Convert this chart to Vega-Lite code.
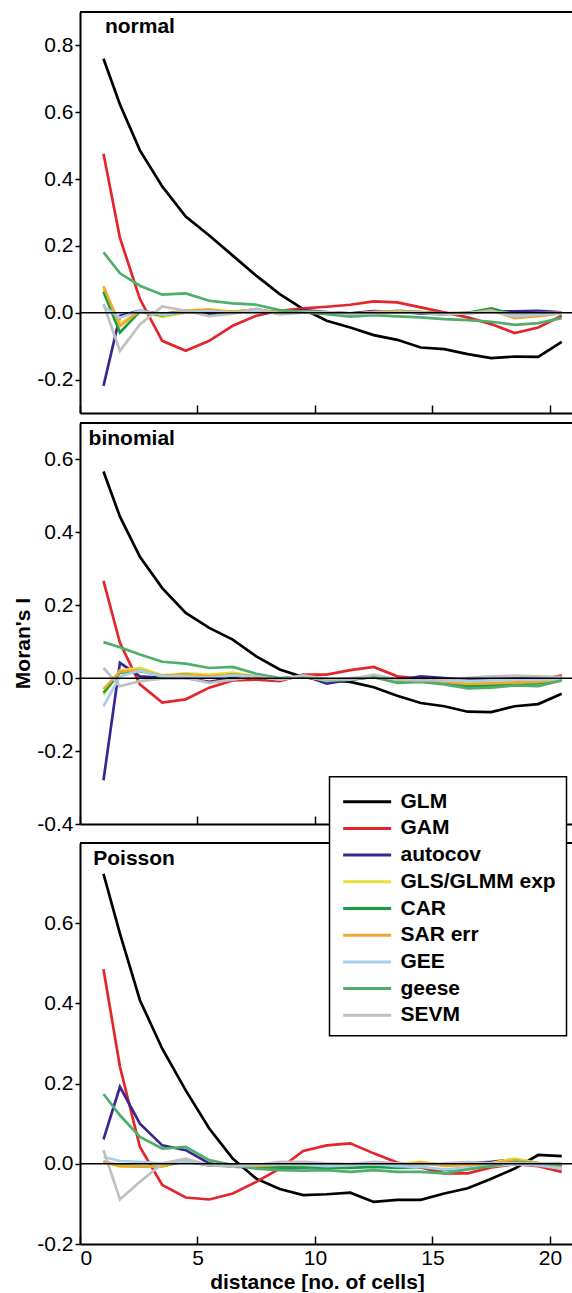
{
"$schema": "https://vega.github.io/schema/vega-lite/v6.json",
"padding": {"left": 12, "top": 11, "right": 0, "bottom": 0},
"spacing": 8,
"config": {
  "font": "Liberation Sans",
  "locale": {"number": {"decimal": ".", "thousands": ",", "grouping": [3], "currency": ["$", ""], "minus": "-"}},
  "view": {"stroke": null},
  "axis": {"domainColor": "black", "domainWidth": 2, "tickColor": "black", "tickWidth": 1.5, "labelColor": "black", "labelFontSize": 21, "labelFont": "Liberation Sans", "grid": false, "titleFontSize": 21, "titleFont": "Liberation Sans", "titleFontWeight": "bold", "titleColor": "black"},
  "legend": {"title": null, "strokeColor": "black", "strokeWidth": 1.5, "fillColor": "white", "padding": 10, "symbolType": "M-0.85,0H2.75", "symbolSize": 711, "symbolStrokeWidth": 3, "labelFontSize": 21, "labelFontWeight": "bold", "labelFont": "Liberation Sans", "labelColor": "black", "labelOffset": 31, "rowPadding": 1.7}
},
"datasets": {
"normal": [
{"m":"GLM","d":1,"v":0.76},{"m":"GLM","d":1.7,"v":0.623},{"m":"GLM","d":2.55,"v":0.486},{"m":"GLM","d":3.5,"v":0.378},{"m":"GLM","d":4.5,"v":0.288},{"m":"GLM","d":5.5,"v":0.231},{"m":"GLM","d":6.5,"v":0.171},{"m":"GLM","d":7.5,"v":0.111},{"m":"GLM","d":8.5,"v":0.056},{"m":"GLM","d":9.5,"v":0.011},{"m":"GLM","d":10.5,"v":-0.024},{"m":"GLM","d":11.5,"v":-0.044},{"m":"GLM","d":12.5,"v":-0.067},{"m":"GLM","d":13.5,"v":-0.081},{"m":"GLM","d":14.5,"v":-0.104},{"m":"GLM","d":15.5,"v":-0.109},{"m":"GLM","d":16.5,"v":-0.124},{"m":"GLM","d":17.5,"v":-0.136},{"m":"GLM","d":18.5,"v":-0.131},{"m":"GLM","d":19.5,"v":-0.132},{"m":"GLM","d":20.5,"v":-0.087},
{"m":"GAM","d":1,"v":0.476},{"m":"GAM","d":1.7,"v":0.224},{"m":"GAM","d":2.55,"v":0.041},{"m":"GAM","d":3.5,"v":-0.084},{"m":"GAM","d":4.5,"v":-0.114},{"m":"GAM","d":5.5,"v":-0.084},{"m":"GAM","d":6.5,"v":-0.039},{"m":"GAM","d":7.5,"v":-0.009},{"m":"GAM","d":8.5,"v":0.006},{"m":"GAM","d":9.5,"v":0.013},{"m":"GAM","d":10.5,"v":0.018},{"m":"GAM","d":11.5,"v":0.024},{"m":"GAM","d":12.5,"v":0.034},{"m":"GAM","d":13.5,"v":0.031},{"m":"GAM","d":14.5,"v":0.016},{"m":"GAM","d":15.5,"v":0.001},{"m":"GAM","d":16.5,"v":-0.014},{"m":"GAM","d":17.5,"v":-0.034},{"m":"GAM","d":18.5,"v":-0.061},{"m":"GAM","d":19.5,"v":-0.044},{"m":"GAM","d":20.5,"v":-0.009},
{"m":"autocov","d":1,"v":-0.219},{"m":"autocov","d":1.7,"v":-0.009},{"m":"autocov","d":2.55,"v":0.006},{"m":"autocov","d":3.5,"v":-0.004},{"m":"autocov","d":4.5,"v":0.006},{"m":"autocov","d":5.5,"v":-0.004},{"m":"autocov","d":6.5,"v":0.002},{"m":"autocov","d":7.5,"v":0.006},{"m":"autocov","d":8.5,"v":-0.002},{"m":"autocov","d":9.5,"v":0.008},{"m":"autocov","d":10.5,"v":0.002},{"m":"autocov","d":11.5,"v":-0.002},{"m":"autocov","d":12.5,"v":0.005},{"m":"autocov","d":13.5,"v":0.003},{"m":"autocov","d":14.5,"v":-0.002},{"m":"autocov","d":15.5,"v":-0.004},{"m":"autocov","d":16.5,"v":0},{"m":"autocov","d":17.5,"v":0.004},{"m":"autocov","d":18.5,"v":0.004},{"m":"autocov","d":19.5,"v":0.006},{"m":"autocov","d":20.5,"v":0.001},
{"m":"GLS/GLMM exp","d":1,"v":0.07},{"m":"GLS/GLMM exp","d":1.7,"v":-0.032},{"m":"GLS/GLMM exp","d":2.55,"v":0.004},{"m":"GLS/GLMM exp","d":3.5,"v":-0.012},{"m":"GLS/GLMM exp","d":4.5,"v":0},{"m":"GLS/GLMM exp","d":5.5,"v":0.006},{"m":"GLS/GLMM exp","d":6.5,"v":0.004},{"m":"GLS/GLMM exp","d":7.5,"v":0.008},{"m":"GLS/GLMM exp","d":8.5,"v":0.002},{"m":"GLS/GLMM exp","d":9.5,"v":0.004},{"m":"GLS/GLMM exp","d":10.5,"v":0},{"m":"GLS/GLMM exp","d":11.5,"v":-0.004},{"m":"GLS/GLMM exp","d":12.5,"v":0.002},{"m":"GLS/GLMM exp","d":13.5,"v":0.004},{"m":"GLS/GLMM exp","d":14.5,"v":0},{"m":"GLS/GLMM exp","d":15.5,"v":-0.002},{"m":"GLS/GLMM exp","d":16.5,"v":0},{"m":"GLS/GLMM exp","d":17.5,"v":0.006},{"m":"GLS/GLMM exp","d":18.5,"v":-0.012},{"m":"GLS/GLMM exp","d":19.5,"v":-0.004},{"m":"GLS/GLMM exp","d":20.5,"v":0},
{"m":"CAR","d":1,"v":0.063},{"m":"CAR","d":1.7,"v":-0.059},{"m":"CAR","d":2.55,"v":0.004},{"m":"CAR","d":3.5,"v":-0.008},{"m":"CAR","d":4.5,"v":0.004},{"m":"CAR","d":5.5,"v":0.006},{"m":"CAR","d":6.5,"v":0.002},{"m":"CAR","d":7.5,"v":0.01},{"m":"CAR","d":8.5,"v":0},{"m":"CAR","d":9.5,"v":0.004},{"m":"CAR","d":10.5,"v":0.002},{"m":"CAR","d":11.5,"v":-0.006},{"m":"CAR","d":12.5,"v":0},{"m":"CAR","d":13.5,"v":0.006},{"m":"CAR","d":14.5,"v":0.002},{"m":"CAR","d":15.5,"v":-0.002},{"m":"CAR","d":16.5,"v":0},{"m":"CAR","d":17.5,"v":0.013},{"m":"CAR","d":18.5,"v":-0.006},{"m":"CAR","d":19.5,"v":-0.002},{"m":"CAR","d":20.5,"v":-0.002},
{"m":"SAR err","d":1,"v":0.079},{"m":"SAR err","d":1.7,"v":-0.04},{"m":"SAR err","d":2.55,"v":0.006},{"m":"SAR err","d":3.5,"v":-0.006},{"m":"SAR err","d":4.5,"v":0.006},{"m":"SAR err","d":5.5,"v":0.01},{"m":"SAR err","d":6.5,"v":0.002},{"m":"SAR err","d":7.5,"v":0.01},{"m":"SAR err","d":8.5,"v":0},{"m":"SAR err","d":9.5,"v":0.002},{"m":"SAR err","d":10.5,"v":0},{"m":"SAR err","d":11.5,"v":-0.004},{"m":"SAR err","d":12.5,"v":0.002},{"m":"SAR err","d":13.5,"v":0.004},{"m":"SAR err","d":14.5,"v":0.002},{"m":"SAR err","d":15.5,"v":-0.004},{"m":"SAR err","d":16.5,"v":-0.002},{"m":"SAR err","d":17.5,"v":0.008},{"m":"SAR err","d":18.5,"v":-0.016},{"m":"SAR err","d":19.5,"v":-0.01},{"m":"SAR err","d":20.5,"v":-0.002},
{"m":"GEE","d":1,"v":0.02},{"m":"GEE","d":1.7,"v":-0.015},{"m":"GEE","d":2.55,"v":0.006},{"m":"GEE","d":3.5,"v":-0.006},{"m":"GEE","d":4.5,"v":0.002},{"m":"GEE","d":5.5,"v":0.004},{"m":"GEE","d":6.5,"v":0},{"m":"GEE","d":7.5,"v":0.006},{"m":"GEE","d":8.5,"v":-0.002},{"m":"GEE","d":9.5,"v":0.002},{"m":"GEE","d":10.5,"v":0.002},{"m":"GEE","d":11.5,"v":-0.004},{"m":"GEE","d":12.5,"v":0},{"m":"GEE","d":13.5,"v":0},{"m":"GEE","d":14.5,"v":0},{"m":"GEE","d":15.5,"v":-0.004},{"m":"GEE","d":16.5,"v":-0.002},{"m":"GEE","d":17.5,"v":0.004},{"m":"GEE","d":18.5,"v":-0.01},{"m":"GEE","d":19.5,"v":-0.006},{"m":"GEE","d":20.5,"v":-0.002},
{"m":"geese","d":1,"v":0.181},{"m":"geese","d":1.7,"v":0.118},{"m":"geese","d":2.55,"v":0.081},{"m":"geese","d":3.5,"v":0.054},{"m":"geese","d":4.5,"v":0.058},{"m":"geese","d":5.5,"v":0.036},{"m":"geese","d":6.5,"v":0.028},{"m":"geese","d":7.5,"v":0.024},{"m":"geese","d":8.5,"v":0.008},{"m":"geese","d":9.5,"v":0.001},{"m":"geese","d":10.5,"v":-0.004},{"m":"geese","d":11.5,"v":-0.012},{"m":"geese","d":12.5,"v":-0.007},{"m":"geese","d":13.5,"v":-0.011},{"m":"geese","d":14.5,"v":-0.014},{"m":"geese","d":15.5,"v":-0.019},{"m":"geese","d":16.5,"v":-0.022},{"m":"geese","d":17.5,"v":-0.027},{"m":"geese","d":18.5,"v":-0.036},{"m":"geese","d":19.5,"v":-0.031},{"m":"geese","d":20.5,"v":-0.016},
{"m":"SEVM","d":1,"v":0.026},{"m":"SEVM","d":1.7,"v":-0.114},{"m":"SEVM","d":2.55,"v":-0.035},{"m":"SEVM","d":3.5,"v":0.019},{"m":"SEVM","d":4.5,"v":0.006},{"m":"SEVM","d":5.5,"v":-0.01},{"m":"SEVM","d":6.5,"v":-0.003},{"m":"SEVM","d":7.5,"v":0.012},{"m":"SEVM","d":8.5,"v":-0.005},{"m":"SEVM","d":9.5,"v":0},{"m":"SEVM","d":10.5,"v":0.002},{"m":"SEVM","d":11.5,"v":-0.003},{"m":"SEVM","d":12.5,"v":-0.002},{"m":"SEVM","d":13.5,"v":0.002},{"m":"SEVM","d":14.5,"v":0},{"m":"SEVM","d":15.5,"v":-0.003},{"m":"SEVM","d":16.5,"v":-0.002},{"m":"SEVM","d":17.5,"v":0.003},{"m":"SEVM","d":18.5,"v":-0.003},{"m":"SEVM","d":19.5,"v":-0.001},{"m":"SEVM","d":20.5,"v":0}
],
"binomial": [
{"m":"GLM","d":1,"v":0.567},{"m":"GLM","d":1.7,"v":0.443},{"m":"GLM","d":2.55,"v":0.333},{"m":"GLM","d":3.5,"v":0.247},{"m":"GLM","d":4.5,"v":0.179},{"m":"GLM","d":5.5,"v":0.138},{"m":"GLM","d":6.5,"v":0.106},{"m":"GLM","d":7.5,"v":0.06},{"m":"GLM","d":8.5,"v":0.024},{"m":"GLM","d":9.5,"v":0.003},{"m":"GLM","d":10.5,"v":-0.005},{"m":"GLM","d":11.5,"v":-0.01},{"m":"GLM","d":12.5,"v":-0.025},{"m":"GLM","d":13.5,"v":-0.048},{"m":"GLM","d":14.5,"v":-0.068},{"m":"GLM","d":15.5,"v":-0.077},{"m":"GLM","d":16.5,"v":-0.092},{"m":"GLM","d":17.5,"v":-0.093},{"m":"GLM","d":18.5,"v":-0.077},{"m":"GLM","d":19.5,"v":-0.071},{"m":"GLM","d":20.5,"v":-0.043},
{"m":"GAM","d":1,"v":0.267},{"m":"GAM","d":1.7,"v":0.097},{"m":"GAM","d":2.55,"v":-0.017},{"m":"GAM","d":3.5,"v":-0.067},{"m":"GAM","d":4.5,"v":-0.058},{"m":"GAM","d":5.5,"v":-0.026},{"m":"GAM","d":6.5,"v":-0.006},{"m":"GAM","d":7.5,"v":-0.004},{"m":"GAM","d":8.5,"v":-0.008},{"m":"GAM","d":9.5,"v":0.01},{"m":"GAM","d":10.5,"v":0.01},{"m":"GAM","d":11.5,"v":0.022},{"m":"GAM","d":12.5,"v":0.031},{"m":"GAM","d":13.5,"v":0.005},{"m":"GAM","d":14.5,"v":-0.001},{"m":"GAM","d":15.5,"v":-0.013},{"m":"GAM","d":16.5,"v":-0.019},{"m":"GAM","d":17.5,"v":-0.017},{"m":"GAM","d":18.5,"v":-0.013},{"m":"GAM","d":19.5,"v":-0.006},{"m":"GAM","d":20.5,"v":0.008},
{"m":"autocov","d":1,"v":-0.28},{"m":"autocov","d":1.7,"v":0.042},{"m":"autocov","d":2.55,"v":0.005},{"m":"autocov","d":3.5,"v":0.001},{"m":"autocov","d":4.5,"v":0.001},{"m":"autocov","d":5.5,"v":-0.01},{"m":"autocov","d":6.5,"v":0.001},{"m":"autocov","d":7.5,"v":0.004},{"m":"autocov","d":8.5,"v":-0.004},{"m":"autocov","d":9.5,"v":0.008},{"m":"autocov","d":10.5,"v":-0.015},{"m":"autocov","d":11.5,"v":-0.004},{"m":"autocov","d":12.5,"v":0.004},{"m":"autocov","d":13.5,"v":-0.006},{"m":"autocov","d":14.5,"v":0.005},{"m":"autocov","d":15.5,"v":0},{"m":"autocov","d":16.5,"v":-0.004},{"m":"autocov","d":17.5,"v":-0.002},{"m":"autocov","d":18.5,"v":-0.001},{"m":"autocov","d":19.5,"v":0},{"m":"autocov","d":20.5,"v":0.002},
{"m":"GLS/GLMM exp","d":1,"v":-0.046},{"m":"GLS/GLMM exp","d":1.7,"v":0.021},{"m":"GLS/GLMM exp","d":2.55,"v":0.028},{"m":"GLS/GLMM exp","d":3.5,"v":0.008},{"m":"GLS/GLMM exp","d":4.5,"v":0.013},{"m":"GLS/GLMM exp","d":5.5,"v":0.01},{"m":"GLS/GLMM exp","d":6.5,"v":0.015},{"m":"GLS/GLMM exp","d":7.5,"v":0.005},{"m":"GLS/GLMM exp","d":8.5,"v":-0.003},{"m":"GLS/GLMM exp","d":9.5,"v":0.006},{"m":"GLS/GLMM exp","d":10.5,"v":-0.006},{"m":"GLS/GLMM exp","d":11.5,"v":-0.002},{"m":"GLS/GLMM exp","d":12.5,"v":0.006},{"m":"GLS/GLMM exp","d":13.5,"v":-0.004},{"m":"GLS/GLMM exp","d":14.5,"v":-0.006},{"m":"GLS/GLMM exp","d":15.5,"v":-0.01},{"m":"GLS/GLMM exp","d":16.5,"v":-0.013},{"m":"GLS/GLMM exp","d":17.5,"v":-0.012},{"m":"GLS/GLMM exp","d":18.5,"v":-0.013},{"m":"GLS/GLMM exp","d":19.5,"v":-0.01},{"m":"GLS/GLMM exp","d":20.5,"v":-0.004},
{"m":"CAR","d":1,"v":-0.04},{"m":"CAR","d":1.7,"v":0.015},{"m":"CAR","d":2.55,"v":0.02},{"m":"CAR","d":3.5,"v":0.006},{"m":"CAR","d":4.5,"v":0.01},{"m":"CAR","d":5.5,"v":0.004},{"m":"CAR","d":6.5,"v":0.01},{"m":"CAR","d":7.5,"v":0.004},{"m":"CAR","d":8.5,"v":-0.004},{"m":"CAR","d":9.5,"v":0.006},{"m":"CAR","d":10.5,"v":-0.008},{"m":"CAR","d":11.5,"v":-0.004},{"m":"CAR","d":12.5,"v":0.004},{"m":"CAR","d":13.5,"v":-0.006},{"m":"CAR","d":14.5,"v":-0.008},{"m":"CAR","d":15.5,"v":-0.012},{"m":"CAR","d":16.5,"v":-0.022},{"m":"CAR","d":17.5,"v":-0.02},{"m":"CAR","d":18.5,"v":-0.016},{"m":"CAR","d":19.5,"v":-0.014},{"m":"CAR","d":20.5,"v":-0.006},
{"m":"SAR err","d":1,"v":-0.03},{"m":"SAR err","d":1.7,"v":0.018},{"m":"SAR err","d":2.55,"v":0.022},{"m":"SAR err","d":3.5,"v":0.006},{"m":"SAR err","d":4.5,"v":0.01},{"m":"SAR err","d":5.5,"v":0.006},{"m":"SAR err","d":6.5,"v":0.01},{"m":"SAR err","d":7.5,"v":0.004},{"m":"SAR err","d":8.5,"v":-0.003},{"m":"SAR err","d":9.5,"v":0.005},{"m":"SAR err","d":10.5,"v":-0.006},{"m":"SAR err","d":11.5,"v":-0.003},{"m":"SAR err","d":12.5,"v":0.005},{"m":"SAR err","d":13.5,"v":-0.005},{"m":"SAR err","d":14.5,"v":-0.006},{"m":"SAR err","d":15.5,"v":-0.01},{"m":"SAR err","d":16.5,"v":-0.016},{"m":"SAR err","d":17.5,"v":-0.014},{"m":"SAR err","d":18.5,"v":-0.012},{"m":"SAR err","d":19.5,"v":-0.01},{"m":"SAR err","d":20.5,"v":-0.004},
{"m":"GEE","d":1,"v":-0.077},{"m":"GEE","d":1.7,"v":0.005},{"m":"GEE","d":2.55,"v":0.021},{"m":"GEE","d":3.5,"v":0.005},{"m":"GEE","d":4.5,"v":0.005},{"m":"GEE","d":5.5,"v":0.001},{"m":"GEE","d":6.5,"v":0.008},{"m":"GEE","d":7.5,"v":0.004},{"m":"GEE","d":8.5,"v":-0.002},{"m":"GEE","d":9.5,"v":0.006},{"m":"GEE","d":10.5,"v":-0.006},{"m":"GEE","d":11.5,"v":0},{"m":"GEE","d":12.5,"v":0.005},{"m":"GEE","d":13.5,"v":-0.004},{"m":"GEE","d":14.5,"v":-0.004},{"m":"GEE","d":15.5,"v":-0.006},{"m":"GEE","d":16.5,"v":-0.008},{"m":"GEE","d":17.5,"v":-0.006},{"m":"GEE","d":18.5,"v":-0.004},{"m":"GEE","d":19.5,"v":-0.004},{"m":"GEE","d":20.5,"v":-0.002},
{"m":"geese","d":1,"v":0.099},{"m":"geese","d":1.7,"v":0.085},{"m":"geese","d":2.55,"v":0.065},{"m":"geese","d":3.5,"v":0.045},{"m":"geese","d":4.5,"v":0.04},{"m":"geese","d":5.5,"v":0.028},{"m":"geese","d":6.5,"v":0.031},{"m":"geese","d":7.5,"v":0.012},{"m":"geese","d":8.5,"v":0},{"m":"geese","d":9.5,"v":0.005},{"m":"geese","d":10.5,"v":-0.003},{"m":"geese","d":11.5,"v":-0.004},{"m":"geese","d":12.5,"v":0.003},{"m":"geese","d":13.5,"v":-0.013},{"m":"geese","d":14.5,"v":-0.01},{"m":"geese","d":15.5,"v":-0.017},{"m":"geese","d":16.5,"v":-0.028},{"m":"geese","d":17.5,"v":-0.026},{"m":"geese","d":18.5,"v":-0.02},{"m":"geese","d":19.5,"v":-0.022},{"m":"geese","d":20.5,"v":-0.006},
{"m":"SEVM","d":1,"v":0.028},{"m":"SEVM","d":1.7,"v":-0.022},{"m":"SEVM","d":2.55,"v":-0.008},{"m":"SEVM","d":3.5,"v":-0.001},{"m":"SEVM","d":4.5,"v":0.001},{"m":"SEVM","d":5.5,"v":-0.013},{"m":"SEVM","d":6.5,"v":-0.004},{"m":"SEVM","d":7.5,"v":0.005},{"m":"SEVM","d":8.5,"v":-0.004},{"m":"SEVM","d":9.5,"v":0.008},{"m":"SEVM","d":10.5,"v":-0.002},{"m":"SEVM","d":11.5,"v":-0.004},{"m":"SEVM","d":12.5,"v":0.01},{"m":"SEVM","d":13.5,"v":-0.004},{"m":"SEVM","d":14.5,"v":-0.006},{"m":"SEVM","d":15.5,"v":-0.004},{"m":"SEVM","d":16.5,"v":0.001},{"m":"SEVM","d":17.5,"v":0.005},{"m":"SEVM","d":18.5,"v":0.007},{"m":"SEVM","d":19.5,"v":0.005},{"m":"SEVM","d":20.5,"v":0.003}
],
"poisson": [
{"m":"GLM","d":1,"v":0.723},{"m":"GLM","d":1.7,"v":0.574},{"m":"GLM","d":2.55,"v":0.408},{"m":"GLM","d":3.5,"v":0.287},{"m":"GLM","d":4.5,"v":0.183},{"m":"GLM","d":5.5,"v":0.088},{"m":"GLM","d":6.5,"v":0.013},{"m":"GLM","d":7.5,"v":-0.037},{"m":"GLM","d":8.5,"v":-0.063},{"m":"GLM","d":9.5,"v":-0.078},{"m":"GLM","d":10.5,"v":-0.076},{"m":"GLM","d":11.5,"v":-0.072},{"m":"GLM","d":12.5,"v":-0.095},{"m":"GLM","d":13.5,"v":-0.09},{"m":"GLM","d":14.5,"v":-0.09},{"m":"GLM","d":15.5,"v":-0.074},{"m":"GLM","d":16.5,"v":-0.061},{"m":"GLM","d":17.5,"v":-0.037},{"m":"GLM","d":18.5,"v":-0.012},{"m":"GLM","d":19.5,"v":0.022},{"m":"GLM","d":20.5,"v":0.019},
{"m":"GAM","d":1,"v":0.485},{"m":"GAM","d":1.7,"v":0.242},{"m":"GAM","d":2.55,"v":0.042},{"m":"GAM","d":3.5,"v":-0.053},{"m":"GAM","d":4.5,"v":-0.084},{"m":"GAM","d":5.5,"v":-0.089},{"m":"GAM","d":6.5,"v":-0.074},{"m":"GAM","d":7.5,"v":-0.045},{"m":"GAM","d":8.5,"v":-0.012},{"m":"GAM","d":9.5,"v":0.032},{"m":"GAM","d":10.5,"v":0.046},{"m":"GAM","d":11.5,"v":0.051},{"m":"GAM","d":12.5,"v":0.026},{"m":"GAM","d":13.5,"v":0.003},{"m":"GAM","d":14.5,"v":-0.009},{"m":"GAM","d":15.5,"v":-0.024},{"m":"GAM","d":16.5,"v":-0.024},{"m":"GAM","d":17.5,"v":-0.009},{"m":"GAM","d":18.5,"v":-0.001},{"m":"GAM","d":19.5,"v":-0.006},{"m":"GAM","d":20.5,"v":-0.02},
{"m":"autocov","d":1,"v":0.061},{"m":"autocov","d":1.7,"v":0.192},{"m":"autocov","d":2.55,"v":0.1},{"m":"autocov","d":3.5,"v":0.046},{"m":"autocov","d":4.5,"v":0.034},{"m":"autocov","d":5.5,"v":0.001},{"m":"autocov","d":6.5,"v":-0.007},{"m":"autocov","d":7.5,"v":-0.009},{"m":"autocov","d":8.5,"v":-0.009},{"m":"autocov","d":9.5,"v":-0.009},{"m":"autocov","d":10.5,"v":-0.007},{"m":"autocov","d":11.5,"v":-0.008},{"m":"autocov","d":12.5,"v":-0.006},{"m":"autocov","d":13.5,"v":-0.005},{"m":"autocov","d":14.5,"v":0.001},{"m":"autocov","d":15.5,"v":-0.002},{"m":"autocov","d":16.5,"v":0.001},{"m":"autocov","d":17.5,"v":0.005},{"m":"autocov","d":18.5,"v":0.011},{"m":"autocov","d":19.5,"v":0.002},{"m":"autocov","d":20.5,"v":-0.003},
{"m":"GLS/GLMM exp","d":1,"v":0.005},{"m":"GLS/GLMM exp","d":1.7,"v":-0.007},{"m":"GLS/GLMM exp","d":2.55,"v":-0.007},{"m":"GLS/GLMM exp","d":3.5,"v":-0.007},{"m":"GLS/GLMM exp","d":4.5,"v":0.009},{"m":"GLS/GLMM exp","d":5.5,"v":-0.003},{"m":"GLS/GLMM exp","d":6.5,"v":-0.004},{"m":"GLS/GLMM exp","d":7.5,"v":-0.004},{"m":"GLS/GLMM exp","d":8.5,"v":-0.002},{"m":"GLS/GLMM exp","d":9.5,"v":-0.002},{"m":"GLS/GLMM exp","d":10.5,"v":-0.003},{"m":"GLS/GLMM exp","d":11.5,"v":-0.002},{"m":"GLS/GLMM exp","d":12.5,"v":0},{"m":"GLS/GLMM exp","d":13.5,"v":-0.002},{"m":"GLS/GLMM exp","d":14.5,"v":0.005},{"m":"GLS/GLMM exp","d":15.5,"v":-0.004},{"m":"GLS/GLMM exp","d":16.5,"v":-0.002},{"m":"GLS/GLMM exp","d":17.5,"v":0.002},{"m":"GLS/GLMM exp","d":18.5,"v":0.013},{"m":"GLS/GLMM exp","d":19.5,"v":0.002},{"m":"GLS/GLMM exp","d":20.5,"v":-0.012},
{"m":"CAR","d":1,"v":0.004},{"m":"CAR","d":1.7,"v":-0.004},{"m":"CAR","d":2.55,"v":-0.006},{"m":"CAR","d":3.5,"v":-0.005},{"m":"CAR","d":4.5,"v":0.006},{"m":"CAR","d":5.5,"v":-0.004},{"m":"CAR","d":6.5,"v":-0.006},{"m":"CAR","d":7.5,"v":-0.008},{"m":"CAR","d":8.5,"v":-0.01},{"m":"CAR","d":9.5,"v":-0.008},{"m":"CAR","d":10.5,"v":-0.01},{"m":"CAR","d":11.5,"v":-0.01},{"m":"CAR","d":12.5,"v":-0.008},{"m":"CAR","d":13.5,"v":-0.01},{"m":"CAR","d":14.5,"v":-0.008},{"m":"CAR","d":15.5,"v":-0.016},{"m":"CAR","d":16.5,"v":-0.01},{"m":"CAR","d":17.5,"v":-0.004},{"m":"CAR","d":18.5,"v":0.004},{"m":"CAR","d":19.5,"v":0},{"m":"CAR","d":20.5,"v":-0.006},
{"m":"SAR err","d":1,"v":0.006},{"m":"SAR err","d":1.7,"v":-0.005},{"m":"SAR err","d":2.55,"v":-0.006},{"m":"SAR err","d":3.5,"v":-0.006},{"m":"SAR err","d":4.5,"v":0.008},{"m":"SAR err","d":5.5,"v":-0.003},{"m":"SAR err","d":6.5,"v":-0.004},{"m":"SAR err","d":7.5,"v":-0.005},{"m":"SAR err","d":8.5,"v":-0.003},{"m":"SAR err","d":9.5,"v":-0.003},{"m":"SAR err","d":10.5,"v":-0.004},{"m":"SAR err","d":11.5,"v":-0.003},{"m":"SAR err","d":12.5,"v":-0.001},{"m":"SAR err","d":13.5,"v":-0.003},{"m":"SAR err","d":14.5,"v":0.003},{"m":"SAR err","d":15.5,"v":-0.005},{"m":"SAR err","d":16.5,"v":-0.003},{"m":"SAR err","d":17.5,"v":0},{"m":"SAR err","d":18.5,"v":0.009},{"m":"SAR err","d":19.5,"v":0.001},{"m":"SAR err","d":20.5,"v":-0.01},
{"m":"GEE","d":1,"v":0.017},{"m":"GEE","d":1.7,"v":0.007},{"m":"GEE","d":2.55,"v":0.005},{"m":"GEE","d":3.5,"v":0.001},{"m":"GEE","d":4.5,"v":0.005},{"m":"GEE","d":5.5,"v":-0.003},{"m":"GEE","d":6.5,"v":-0.004},{"m":"GEE","d":7.5,"v":-0.002},{"m":"GEE","d":8.5,"v":-0.001},{"m":"GEE","d":9.5,"v":-0.002},{"m":"GEE","d":10.5,"v":-0.006},{"m":"GEE","d":11.5,"v":-0.004},{"m":"GEE","d":12.5,"v":-0.001},{"m":"GEE","d":13.5,"v":-0.006},{"m":"GEE","d":14.5,"v":-0.008},{"m":"GEE","d":15.5,"v":-0.014},{"m":"GEE","d":16.5,"v":-0.01},{"m":"GEE","d":17.5,"v":-0.006},{"m":"GEE","d":18.5,"v":-0.001},{"m":"GEE","d":19.5,"v":-0.004},{"m":"GEE","d":20.5,"v":-0.012},
{"m":"geese","d":1,"v":0.174},{"m":"geese","d":1.7,"v":0.121},{"m":"geese","d":2.55,"v":0.067},{"m":"geese","d":3.5,"v":0.038},{"m":"geese","d":4.5,"v":0.042},{"m":"geese","d":5.5,"v":0.009},{"m":"geese","d":6.5,"v":-0.003},{"m":"geese","d":7.5,"v":-0.012},{"m":"geese","d":8.5,"v":-0.016},{"m":"geese","d":9.5,"v":-0.017},{"m":"geese","d":10.5,"v":-0.016},{"m":"geese","d":11.5,"v":-0.02},{"m":"geese","d":12.5,"v":-0.016},{"m":"geese","d":13.5,"v":-0.02},{"m":"geese","d":14.5,"v":-0.02},{"m":"geese","d":15.5,"v":-0.024},{"m":"geese","d":16.5,"v":-0.014},{"m":"geese","d":17.5,"v":-0.006},{"m":"geese","d":18.5,"v":0.005},{"m":"geese","d":19.5,"v":0.001},{"m":"geese","d":20.5,"v":-0.003},
{"m":"SEVM","d":1,"v":0.034},{"m":"SEVM","d":1.7,"v":-0.089},{"m":"SEVM","d":2.55,"v":-0.045},{"m":"SEVM","d":3.5,"v":0.001},{"m":"SEVM","d":4.5,"v":0.013},{"m":"SEVM","d":5.5,"v":-0.003},{"m":"SEVM","d":6.5,"v":-0.007},{"m":"SEVM","d":7.5,"v":-0.003},{"m":"SEVM","d":8.5,"v":0.005},{"m":"SEVM","d":9.5,"v":0.005},{"m":"SEVM","d":10.5,"v":0.001},{"m":"SEVM","d":11.5,"v":-0.001},{"m":"SEVM","d":12.5,"v":0.005},{"m":"SEVM","d":13.5,"v":0.001},{"m":"SEVM","d":14.5,"v":-0.003},{"m":"SEVM","d":15.5,"v":0.001},{"m":"SEVM","d":16.5,"v":0.004},{"m":"SEVM","d":17.5,"v":0.001},{"m":"SEVM","d":18.5,"v":0.001},{"m":"SEVM","d":19.5,"v":0.001},{"m":"SEVM","d":20.5,"v":0.002}
]
},
"vconcat": [
{
 "width": 493, "height": 401,
 "layer": [
  {"data": {"name": "normal"}, "mark": {"type": "line", "strokeWidth": 2.7},
   "encoding": {
    "x": {"field": "d", "type": "quantitative", "scale": {"domain": [0, 20.98], "nice": false, "zero": false}, "axis": {"values": [0, 5, 10, 15, 20], "labels": false, "tickSize": -8, "title": null}},
    "y": {"field": "v", "type": "quantitative", "scale": {"domain": [-0.3, 0.9], "nice": false, "zero": false}, "axis": {"values": [-0.2, 0, 0.2, 0.4, 0.6, 0.8], "format": ".1f", "tickSize": 5, "labelPadding": 2, "title": null}},
    "color": {"field": "m", "type": "nominal", "scale": {"domain": ["GLM", "GAM", "autocov", "GLS/GLMM exp", "CAR", "SAR err", "GEE", "geese", "SEVM"], "range": ["#000000", "#e3262b", "#3b2690", "#e8e03a", "#13a03f", "#f0a830", "#a6cfee", "#4fae6b", "#c0c0c0"]}, "legend": {"orient": "none", "legendX": 249.5, "legendY": 764.7}}
   }},
  {"data": {"values": [{}]}, "mark": {"type": "rule", "color": "black", "strokeWidth": 1.5}, "encoding": {"y": {"datum": 0}}},
  {"data": {"values": [{}]}, "mark": {"type": "rule", "color": "black", "strokeWidth": 2}, "encoding": {"y": {"datum": 0.9}}},
  {"data": {"values": [{}]}, "mark": {"type": "text", "text": "normal", "align": "right", "baseline": "alphabetic", "fontWeight": "bold", "fontSize": 21, "color": "black"}, "encoding": {"x": {"datum": 4.04}, "y": {"datum": 0.836}}}
 ]
},
{
 "width": 493, "height": 401,
 "layer": [
  {"data": {"name": "binomial"}, "mark": {"type": "line", "strokeWidth": 2.7},
   "encoding": {
    "x": {"field": "d", "type": "quantitative", "scale": {"domain": [0, 20.98], "nice": false, "zero": false}, "axis": {"values": [0, 5, 10, 15, 20], "labels": false, "tickSize": -8, "title": null}},
    "y": {"field": "v", "type": "quantitative", "scale": {"domain": [-0.4, 0.7], "nice": false, "zero": false}, "axis": {"values": [-0.4, -0.2, 0, 0.2, 0.4, 0.6], "format": ".1f", "tickSize": 5, "labelPadding": 2, "title": "Moran's I", "titlePadding": 3, "titleY": 220}},
    "color": {"field": "m", "type": "nominal", "scale": {"domain": ["GLM", "GAM", "autocov", "GLS/GLMM exp", "CAR", "SAR err", "GEE", "geese", "SEVM"], "range": ["#000000", "#e3262b", "#3b2690", "#e8e03a", "#13a03f", "#f0a830", "#a6cfee", "#4fae6b", "#c0c0c0"]}, "legend": {"orient": "none", "legendX": 249.5, "legendY": 764.7}}
   }},
  {"data": {"values": [{}]}, "mark": {"type": "rule", "color": "black", "strokeWidth": 1.5}, "encoding": {"y": {"datum": 0}}},
  {"data": {"values": [{}]}, "mark": {"type": "rule", "color": "black", "strokeWidth": 2}, "encoding": {"y": {"datum": 0.7}}},
  {"data": {"values": [{}]}, "mark": {"type": "text", "text": "binomial", "align": "right", "baseline": "alphabetic", "fontWeight": "bold", "fontSize": 21, "color": "black"}, "encoding": {"x": {"datum": 4.04}, "y": {"datum": 0.641}}}
 ]
},
{
 "width": 493, "height": 401,
 "layer": [
  {"data": {"name": "poisson"}, "mark": {"type": "line", "strokeWidth": 2.7},
   "encoding": {
    "x": {"field": "d", "type": "quantitative", "scale": {"domain": [0, 20.98], "nice": false, "zero": false}, "axis": {"values": [0, 5, 10, 15, 20], "labels": true, "tickSize": -8, "labelPadding": 11, "title": "distance [no. of cells]", "titlePadding": 3, "titleX": 237}},
    "y": {"field": "v", "type": "quantitative", "scale": {"domain": [-0.2, 0.8], "nice": false, "zero": false}, "axis": {"values": [-0.2, 0, 0.2, 0.4, 0.6], "format": ".1f", "tickSize": 5, "labelPadding": 2, "title": null}},
    "color": {"field": "m", "type": "nominal", "scale": {"domain": ["GLM", "GAM", "autocov", "GLS/GLMM exp", "CAR", "SAR err", "GEE", "geese", "SEVM"], "range": ["#000000", "#e3262b", "#3b2690", "#e8e03a", "#13a03f", "#f0a830", "#a6cfee", "#4fae6b", "#c0c0c0"]}, "legend": {"orient": "none", "legendX": 249.5, "legendY": 764.7}}
   }},
  {"data": {"values": [{}]}, "mark": {"type": "rule", "color": "black", "strokeWidth": 1.5}, "encoding": {"y": {"datum": 0}}},
  {"data": {"values": [{}]}, "mark": {"type": "rule", "color": "black", "strokeWidth": 2}, "encoding": {"y": {"datum": 0.8}}},
  {"data": {"values": [{}]}, "mark": {"type": "text", "text": "Poisson", "align": "right", "baseline": "alphabetic", "fontWeight": "bold", "fontSize": 21, "color": "black"}, "encoding": {"x": {"datum": 4.04}, "y": {"datum": 0.744}}}
 ]
}
]
}
